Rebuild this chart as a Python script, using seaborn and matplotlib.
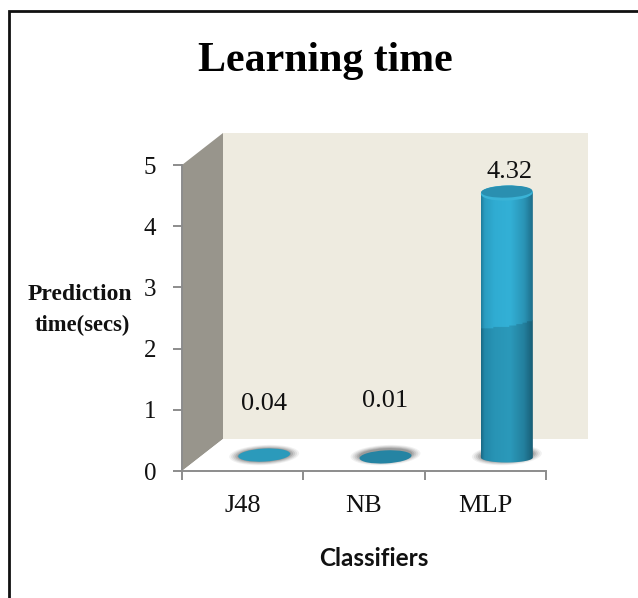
#!/usr/bin/env python3

import numpy as np
import pandas as pd
import matplotlib
matplotlib.use("Agg")
import matplotlib.pyplot as plt
from matplotlib.colors import to_rgb
from matplotlib.patches import Ellipse, Polygon, Rectangle
from matplotlib.transforms import IdentityTransform
import seaborn as sns

classifiers = ["J48", "NB", "MLP"]
learning_time = [0.04, 0.01, 4.32]
value_labels = ["0.04", "0.01", "4.32"]
y_ticks = [0, 1, 2, 3, 4, 5]

W, H = 638, 598
SERIF = ["Liberation Serif", "DejaVu Serif"]

sns.set_theme(style="white")
plt.rcParams["font.family"] = SERIF


def px_axes(left, top, right, bottom):
    return [left / W, 1 - bottom / H, (right - left) / W, (bottom - top) / H]


def tilted(ax, x, y, w, h, angle, shift=0, **kw):
    # ellipse sized in pixels, centred on a data position
    cx, cy = ax.transData.transform((x, y))
    return Ellipse((cx, cy + shift), w, h, angle=angle, transform=IdentityTransform(),
                   clip_on=False, **kw)


def cylinder_rgb(top, split):
    # horizontal shading across the cylinder, darker below the split value
    stops = [0.0, 0.06, 0.25, 0.55, 0.82, 1.0]
    light = ["#1f7f9f", "#2a9cc0", "#30acd2", "#33b0d6", "#2a94b6", "#1c6a86"]
    dark = ["#1a6c88", "#2287a8", "#2894b5", "#2b99ba", "#237f9d", "#175a72"]
    xs = np.linspace(0, 1, 60)
    ys = np.linspace(0, top, 200)
    img = np.zeros((200, 60, 3))
    for c in range(3):
        lo = np.interp(xs, stops, [to_rgb(v)[c] for v in dark])
        hi = np.interp(xs, stops, [to_rgb(v)[c] for v in light])
        for i, x in enumerate(xs):
            edge = split + 0.12 * x - 0.04 * np.sin(np.pi * x)
            img[:, i, c] = np.where(ys < edge, lo[i], hi[i])
    return img


fig = plt.figure(figsize=(W / 100, H / 100), dpi=100, facecolor="white")

# black frame round the slide, open at the right and bottom image edges
fig.add_artist(Rectangle((8.5 / W, -0.02), 0.99, 1 - 10.5 / H + 0.02, transform=fig.transFigure,
                         fill=False, edgecolor="#111111", linewidth=2.0))

ax = fig.add_axes(px_axes(182, 165, 546, 471))
ax.set_xlim(-0.5, 2.5)
ax.set_ylim(0, 5)
ax.patch.set_alpha(0)

# back wall and side wall of the 3D box
dx, dy = 41 / 364, 32 / 306
ax.add_patch(Rectangle((dx, dy), 1.0035, 1, transform=ax.transAxes, facecolor="#eeebe0",
                       edgecolor="none", clip_on=False, zorder=0))
ax.add_patch(Polygon([(0, 0), (dx, dy), (dx, 1 + dy), (0, 1)], transform=ax.transAxes,
                     facecolor="#98958c", edgecolor="none", clip_on=False, zorder=1))
ax.add_patch(Polygon([(0, 0), (dx, dy), (1 + dx + 0.0035, dy), (1, 0)], transform=ax.transAxes,
                     facecolor="white", edgecolor="none", clip_on=False, zorder=1))

sns.despine(ax=ax)
for side in ["left", "bottom"]:
    ax.spines[side].set_color("#8c8c8c")
    ax.spines[side].set_linewidth(1.4)
ax.set_yticks(y_ticks)
ax.set_yticklabels([str(v) for v in y_ticks], fontsize=18, color="#111111")
ax.set_xticks([-0.5, 0.5, 1.5, 2.5])
ax.set_xticklabels([])
ax.set_xticks(range(len(classifiers)), minor=True)
ax.set_xticklabels(classifiers, minor=True, fontsize=19, color="#111111")
ax.tick_params(axis="y", length=6.5, width=1.4, color="#8c8c8c", pad=12, left=True)
ax.tick_params(axis="x", which="major", length=6.5, width=1.4, color="#8c8c8c", bottom=True)
ax.tick_params(axis="x", which="minor", length=0, pad=17)

# bars sit on the floor of the box, so their axes is moved into the depth
ax_bars = fig.add_axes(px_axes(182 + 21.5, 165 - 13.5, 546 + 21.5, 471 - 13.5))
df = pd.DataFrame({"classifier": classifiers, "time": learning_time})
sns.barplot(data=df, x="classifier", y="time", order=classifiers, width=52 / 121.3,
            color="#30acd2", ax=ax_bars)
ax_bars.set_xlim(-0.5, 2.5)
ax_bars.set_ylim(0, 5)
ax_bars.axis("off")

bar_w, cap_h, foot_h = 52, 15, 10
top_cols = ["#2b9abb", "#2584a3", "#2a8fb0"]
for i, bar in enumerate(ax_bars.patches):
    xc = bar.get_x() + bar.get_width() / 2
    val = bar.get_height()
    x0 = bar.get_x()
    x1 = x0 + bar.get_width()
    # soft shadow on the floor
    for k, a in zip(range(5), [0.1, 0.14, 0.2, 0.28, 0.38]):
        ax_bars.add_patch(tilted(ax_bars, xc, 0.04, 70 - 4 * k, 20 - 1.6 * k, 3,
                                 facecolor="#777777", edgecolor="none", alpha=a, zorder=2))
    bar.set_visible(False)
    if val <= 1:
        # too short to show a side, only the lid is left
        ax_bars.add_patch(tilted(ax_bars, xc, val, bar_w, 13, 3, facecolor=top_cols[i],
                                 edgecolor="none", zorder=4))
        continue
    # outline of the cylinder in pixels, used to clip the shading
    cx0, cy0 = ax_bars.transData.transform((xc, 0))
    cx1, cy1 = ax_bars.transData.transform((xc, val))
    t = np.linspace(np.pi, 2 * np.pi, 40)
    lower = np.c_[cx0 + bar_w / 2 * np.cos(t), cy0 + foot_h / 2 * np.sin(t)]
    upper = np.c_[cx1 + bar_w / 2 * np.cos(t[::-1]), cy1 - cap_h / 2 * np.sin(t[::-1])]
    outline = Polygon(np.r_[lower, upper], transform=IdentityTransform(), facecolor="none",
                      edgecolor="none")
    ax_bars.add_patch(outline)
    pad = 0.15
    im = ax_bars.imshow(cylinder_rgb(val + pad, 2.05 + pad), extent=(x0, x1, -pad, val + pad),
                        origin="lower", aspect="auto", zorder=3)
    im.set_clip_box(fig.bbox)
    im.set_clip_path(outline)
    ax_bars.add_patch(tilted(ax_bars, xc, val, bar_w, cap_h, 2, facecolor="#3ab3d6",
                             edgecolor="none", zorder=4))
    ax_bars.add_patch(tilted(ax_bars, xc, val, bar_w - 1, cap_h - 3, 2, shift=1.5,
                             facecolor=top_cols[i], edgecolor="none", zorder=4))

ax_bars.set_xlim(-0.5, 2.5)
ax_bars.set_ylim(0, 5)

# value labels float well above the flat bars in the original
label_y = [0.69, 0.74, 4.49]
label_nudge = [0, 0, 0.02]
for i, txt in enumerate(value_labels):
    ax_bars.text(i + label_nudge[i], label_y[i], txt, ha="center", va="bottom", fontsize=19,
                 color="#111111", zorder=5)

fig.text(325.5 / W, 1 - 61 / H, "Learning time", ha="center", va="center", fontsize=30.2,
         fontweight="bold", color="black")
fig.text(80 / W, 1 - 295 / H, "Prediction", ha="center", va="center", fontsize=17,
         fontweight="bold", color="#111111")
fig.text(82 / W, 1 - 325 / H, "time(secs)", ha="center", va="center", fontsize=16.3,
         fontweight="bold", color="#111111")
fig.text(374 / W, 1 - 559 / H, "Classifiers", ha="center", va="center", fontsize=17.5,
         fontweight="bold", color="#111111", family=["Lato", "DejaVu Sans"])

fig.savefig("out.png", dpi=100)
